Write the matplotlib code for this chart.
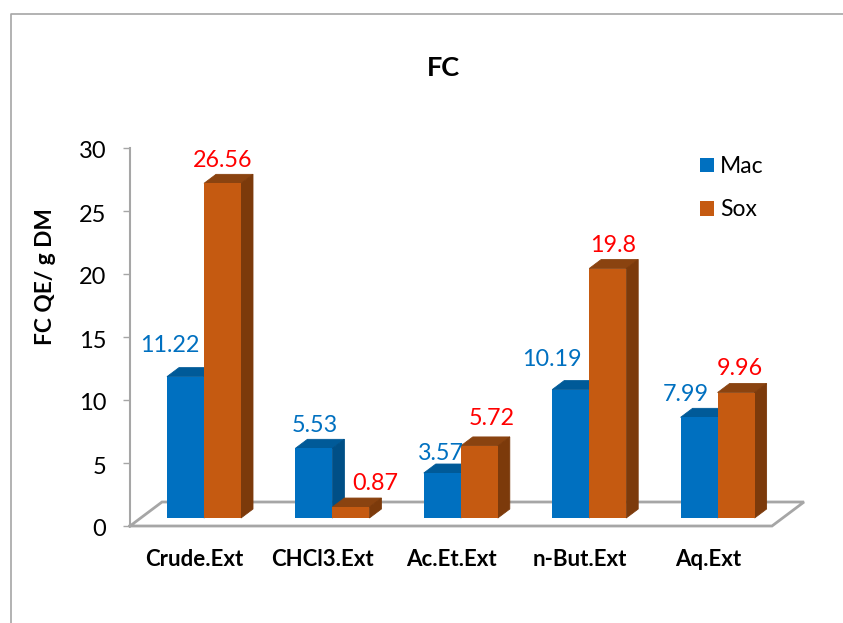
import matplotlib
matplotlib.use("Agg")
import matplotlib.pyplot as plt
from matplotlib.lines import Line2D
from matplotlib.patches import Polygon
from matplotlib.transforms import ScaledTranslation

plt.rcParams['font.family'] = ['Lato', 'DejaVu Sans']

categories = ["Crude.Ext", "CHCl3.Ext", "Ac.Et.Ext", "n-But.Ext", "Aq.Ext"]
macValues = [11.22, 5.53, 3.57, 10.19, 7.99]
soxValues = [26.56, 0.87, 5.72, 19.8, 9.96]
macLabels = ["11.22", "5.53", "3.57", "10.19", "7.99"]
soxLabels = ["26.56", "0.87", "5.72", "19.8", "9.96"]
yTicks = [0, 5, 10, 15, 20, 25, 30]

# label offsets from the top of each bar, in pixels
macLabelOffsets = [(-16, 31), (1, 23), (-1, 20), (-19, 30), (-13, 23)]
soxLabelOffsets = [(0, 23), (24, 24), (12, 27), (5, 23), (4, 24)]

figWidth, figHeight = 843, 623
axLeft, axRight, axBottom, axTop = 130, 772, 526, 148
pxPerCategory = (axRight - axLeft) / len(categories)
pxPerUnit = (axBottom - axTop) / 30

barWidth = 37 / pxPerCategory
macStart = 37 / pxPerCategory
floorLift = 8 / pxPerUnit
depthX = 12 / pxPerCategory
depthY = 9 / pxPerUnit
floorDepthX = 32 / pxPerCategory
floorDepthY = 24 / pxPerUnit
gray = "#a6a6a6"


def drawBars(ax, left, values, front, top, side, zorder):
    bars = ax.bar(left, values, barWidth, bottom=floorLift, align="edge", color=front, zorder=zorder + 0.2)
    for bar in bars:
        x0 = bar.get_x()
        x1 = x0 + bar.get_width()
        y0 = bar.get_y()
        y1 = y0 + bar.get_height()
        ax.add_patch(Polygon([(x0, y1), (x1, y1), (x1 + depthX, y1 + depthY), (x0 + depthX, y1 + depthY)],
                             closed=True, color=top, lw=0.6, zorder=zorder, clip_on=False))
        ax.add_patch(Polygon([(x1, y0), (x1, y1), (x1 + depthX, y1 + depthY), (x1 + depthX, y0 + depthY)],
                             closed=True, color=side, lw=0.6, zorder=zorder + 0.1, clip_on=False))
    return bars


def labelBars(ax, bars, labels, offsets, color):
    for bar, text, offset in zip(bars, labels, offsets):
        ax.annotate(text, (bar.get_x() + bar.get_width() / 2, bar.get_y() + bar.get_height()),
                    xytext=offset, textcoords="offset pixels", ha="center", va="center",
                    color=color, fontsize=16.8, zorder=10, annotation_clip=False)


fig = plt.figure(figsize=(figWidth / 100, figHeight / 100), dpi=100, facecolor="white")
ax = fig.add_axes([axLeft / figWidth, 1 - axBottom / figHeight,
                   (axRight - axLeft) / figWidth, (axBottom - axTop) / figHeight])
ax.set_xlim(0, len(categories))
ax.set_ylim(0, 30)
ax.patch.set_visible(False)

# outer chart frame, open at the right and the bottom
fig.add_artist(Line2D([11 / figWidth, 11 / figWidth, 1], [0, 1 - 14 / figHeight, 1 - 14 / figHeight],
                      color=gray, lw=1.2))

# chart floor
floorX = [0, floorDepthX, len(categories) + floorDepthX, len(categories), 0]
floorY = [0, floorDepthY, floorDepthY, 0, 0]
ax.plot(floorX, floorY, color=gray, lw=2, zorder=1, clip_on=False, solid_joinstyle="miter")

macLeft = [i + macStart for i in range(len(categories))]
soxLeft = [x + barWidth for x in macLeft]
macBars = drawBars(ax, macLeft, macValues, "#0070c0", "#005a98", "#004f86", 3)
soxBars = drawBars(ax, soxLeft, soxValues, "#c55a11", "#8a4310", "#7c3a0b", 4)
labelBars(ax, macBars, macLabels, macLabelOffsets, "#0070c0")
labelBars(ax, soxBars, soxLabels, soxLabelOffsets, "#ff0000")

for name in ["top", "right", "bottom"]:
    ax.spines[name].set_visible(False)
ax.spines["left"].set_color(gray)
ax.spines["left"].set_linewidth(1.5)

ax.set_yticks(yTicks)
ax.tick_params(axis="y", length=5, width=1, color=gray, labelsize=17, pad=12)
# nudge the numbers down a little against their ticks
nudge = ScaledTranslation(0, -2 / 100, fig.dpi_scale_trans)
for label in ax.get_yticklabels():
    label.set_transform(label.get_transform() + nudge)
ax.set_xticks([i + 0.5 for i in range(len(categories))])
ax.set_xticklabels(categories, fontsize=16, fontweight="bold")
ax.tick_params(axis="x", length=0, pad=16.5)

ax.set_ylabel("FC QE/ g DM", fontsize=16.3, fontweight="bold", labelpad=0)
ax.yaxis.set_label_coords((56 - axLeft) / (axRight - axLeft), (axBottom - 277) / (axBottom - axTop))
fig.text(443 / figWidth, 1 - 68 / figHeight, "FC", fontsize=19.5, fontweight="bold", ha="center", va="center")

ax.legend([macBars[0], soxBars[0]], ["Mac", "Sox"], loc="upper left", frameon=False, fontsize=16.5,
          bbox_to_anchor=(700 / figWidth, 1 - 156 / figHeight), bbox_transform=fig.transFigure,
          borderpad=0, borderaxespad=0, handlelength=0.61, handleheight=0.61, handletextpad=0.26,
          labelspacing=0.98)

fig.savefig("out.png", dpi=100)
